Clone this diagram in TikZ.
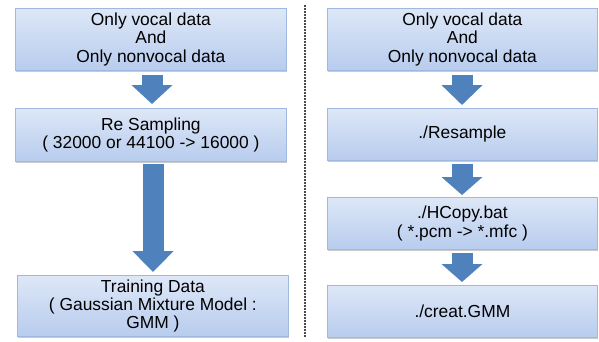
\documentclass[tikz,border=0pt]{standalone}
\usepackage{fontspec}
\setmainfont{Liberation Sans}
\usetikzlibrary{arrows.meta,shadows}
\definecolor{boxtop}{HTML}{DDE7F7}
\definecolor{boxbot}{HTML}{B8CCEE}
\definecolor{boxline}{HTML}{9FB8E0}
\definecolor{arrowblue}{HTML}{4F81BD}
\tikzset{
  stepbox/.style={draw=boxline, line width=0.8pt, top color=boxtop, bottom color=boxbot,
    align=center, inner sep=0pt, anchor=north west,
    font=\fontsize{17.4}{18.3}\selectfont,
    drop shadow={shadow xshift=0.8pt, shadow yshift=-1.6pt, opacity=0.35, fill=black!60}},
  blockarrow/.style={draw=arrowblue, fill=arrowblue, line width=21pt,
    -{Triangle[width=40pt,length=#1]}},
  blockarrow/.default=19pt
}
\begin{document}
\begin{tikzpicture}[x=1pt,y=-1pt]
\useasboundingbox (0,0) rectangle (599,341);
% left column
\node[stepbox, minimum width=271pt, minimum height=62pt] (l1) at (15,8)
  {Only vocal data\\And\\Only nonvocal data};
\node[stepbox, minimum width=271pt, minimum height=53pt] (l2) at (15,108)
  {Re Sampling\\( 32000 or 44100 -> 16000 )};
\node[stepbox, minimum width=271pt, minimum height=61pt] (l3) at (17,275)
  {Training Data\\( Gaussian Mixture Model :\\GMM )};
% right column
\node[stepbox, minimum width=270pt, minimum height=62pt] (r1) at (327,8)
  {Only vocal data\\And\\Only nonvocal data};
\node[stepbox, minimum width=270pt, minimum height=52pt] (r2) at (327,108)
  {./Resample};
\node[stepbox, minimum width=270pt, minimum height=52pt] (r3) at (327,197)
  {./HCopy.bat\\( *.pcm -> *.mfc )};
\node[stepbox, minimum width=270pt, minimum height=52pt] (r4) at (327,285)
  {./creat.GMM};
% arrows
\coordinate (la) at (152,0);
\draw[blockarrow, shorten <=4pt, shorten >=4pt] (l1.south -| la) -- (l2.north -| la);
\coordinate (lb) at (153,0);
\draw[blockarrow=21pt, shorten <=2pt, shorten >=3pt] (l2.south -| lb) -- (l3.north -| lb);
\coordinate (rc) at (462,0);
\draw[blockarrow=20pt, shorten <=4pt, shorten >=3pt] (r1.south -| rc) -- (r2.north -| rc);
\draw[blockarrow=18pt, shorten <=3pt, shorten >=2pt] (r2.south -| rc) -- (r3.north -| rc);
\draw[blockarrow=18pt, shorten <=3pt, shorten >=3pt] (r3.south -| rc) -- (r4.north -| rc);
% separator
\coordinate (s1) at (305,5);
\coordinate (s2) at (305,338);
\draw[black!70, line width=1.2pt, dash pattern=on 1.5pt off 1.5pt] (s1) -- (s2);
\end{tikzpicture}
\end{document}
